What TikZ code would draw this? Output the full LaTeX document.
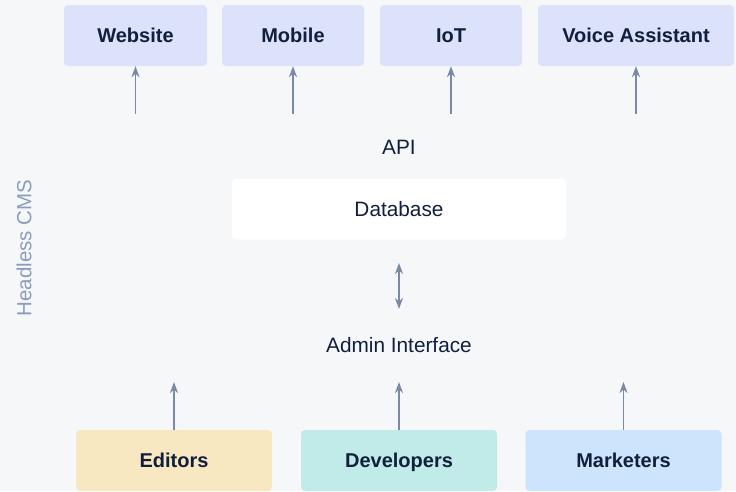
\documentclass[tikz,border=0pt]{standalone}
\usepackage{fontspec}
\setmainfont{Liberation Sans}
\usetikzlibrary{arrows.meta}
\begin{document}
\begin{tikzpicture}[x=1pt,y=-1pt,
        caja/.style={rounded corners=4pt,minimum height=61pt,inner sep=0pt,text height=14.3pt,text depth=0pt,text=tinta,font=\fontsize{20}{24}\selectfont\bfseries},
        texto/.style={text=tinta,font=\fontsize{20.8}{24}\selectfont},
        punta/.style={Stealth[length=11pt,width=8pt,inset=3.5pt]},
        flecha/.style={draw=gris,line width=1.8pt,-{Stealth[length=11pt,width=8pt,inset=3.5pt]}},
        doble/.style={draw=gris,line width=1.8pt,{Stealth[length=11pt,width=8pt,inset=3.5pt]}-{Stealth[length=11pt,width=8pt,inset=3.5pt]}}]
        %colores
        \definecolor{fondo}{RGB}{246,247,249}
        \definecolor{tinta}{RGB}{17,31,61}
        \definecolor{gris}{RGB}{122,138,165}
        \definecolor{rotulo}{RGB}{140,156,186}
        \definecolor{canal}{RGB}{219,226,249}
        \definecolor{editor}{RGB}{248,232,194}
        \definecolor{dev}{RGB}{192,235,232}
        \definecolor{market}{RGB}{204,228,252}

        % Fondo
        \fill[fondo] (0,0) rectangle (736,491);
        \useasboundingbox (0,0) rectangle (736,491);

        % Canales de salida
        \foreach \n/\x/\w/\t in {web/135.5/143/Website,mob/293/142/Mobile,iot/451/142/IoT,voz/636/196/Voice Assistant}
        {
            \node[caja,fill=canal,minimum width=\w pt] (\n) at (\x,35.5) {\t};
            \coordinate (\n-pie) at (\x,114);
            \draw[flecha] (\n-pie) -- (\n.south);
        }

        % API, base de datos, interfaz
        \node[texto] (api) at (399,147) {API};
        \node[caja,fill=white,minimum width=334pt,text height=15pt,font=\fontsize{20.8}{24}\selectfont] (db) at (399,209) {Database};
        \coordinate (db-bajo) at (399,263);
        \coordinate (admin-alto) at (399,309);
        \draw[doble] (db-bajo) -- (admin-alto);
        \node[texto] (admin) at (399,345) {Admin Interface};

        % Usuarios
        \foreach \n/\x/\c/\t in {edi/174/editor/Editors,des/399/dev/Developers,mar/623.5/market/Marketers}
        {
            \node[caja,fill=\c,minimum width=196pt] (\n) at (\x,460.5) {\t};
            \coordinate (\n-punta) at (\x,382);
            \draw[flecha] (\n.north) -- (\n-punta);
        }

        % Rotulo lateral
        \node[text=rotulo,font=\fontsize{20.5}{24}\selectfont,rotate=90] (cms) at (24,248) {Headless CMS};
    \end{tikzpicture}
\end{document}
